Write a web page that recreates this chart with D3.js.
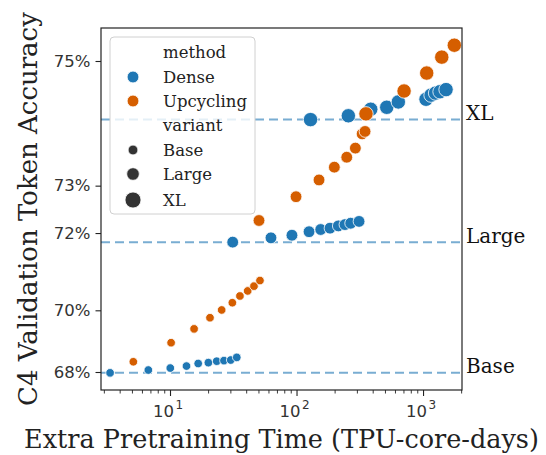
<!DOCTYPE html>
<html>
<head>
<meta charset="utf-8">
<script src="https://cdn.jsdelivr.net/npm/d3@7"></script>
<style>
html,body{margin:0;padding:0;background:#fff;}
svg{display:block;}
</style>
</head>
<body>
<svg id="chart" width="546" height="455"></svg>
<script>
// ---- data ----
const methods = ["Dense", "Upcycling"];
const variants = ["Base", "Large", "XL"];
const yTickValues = [68, 70, 72, 73, 75];
const xTickValues = [10, 100, 1000];

const denseBaseX = [3.36, 6.74, 10.05, 13.5, 16.7, 20.1, 23.4, 26.7, 30.2, 33.7];
const denseBaseY = [67.97, 68.07, 68.14, 68.21, 68.30, 68.33, 68.38, 68.40, 68.42, 68.51];
const upBaseX = [5.13, 10.2, 15.5, 20.7, 25.6, 31.1, 35.7, 41.1, 46.1, 51.4];
const upBaseY = [68.36, 69.0, 69.44, 69.78, 70.01, 70.22, 70.41, 70.55, 70.68, 70.83];
const denseLargeX = [31.3, 62.8, 92.0, 125.6, 155.4, 184, 214, 241.5, 268, 312];
const denseLargeY = [71.79, 71.89, 71.95, 72.03, 72.08, 72.11, 72.16, 72.19, 72.22, 72.26];
const upLargeX = [50.5, 99.1, 150.6, 199, 249.5, 291.8, 330, 348];
const upLargeY = [72.28, 72.78, 73.11, 73.35, 73.53, 73.69, 73.93, 73.97];
const denseXLX = [129, 256.8, 386, 516.6, 637.9, 1056, 1157, 1256, 1362, 1520];
const denseXLY = [74.16, 74.22, 74.32, 74.35, 74.43, 74.47, 74.53, 74.56, 74.58, 74.61];
const upXLX = [354, 708, 1069, 1406, 1767];
const upXLY = [74.25, 74.59, 74.84, 75.05, 75.20];

const baselineLabels = ["Base", "Large", "XL"];
const baselineValues = [67.97, 71.79, 74.16];

// ---- layout ----
const W = 546, H = 455;
const L = 101, R = 462, T = 28, B = 390;
const colors = {Dense: "#1f77b4", Upcycling: "#d55e00"};
const radius = {Base: 4.3, Large: 5.9, XL: 7.2};

const svg = d3.select("#chart");
svg.append("rect").attr("width", W).attr("height", H).attr("fill", "#fff");

const x = d3.scaleLog().domain([2.848, 2032]).range([L, R]);
// accuracy axis: log of (79% - accuracy)
const yLog = d3.scaleLog().domain([11, 4]).range([372, 61]);
const y = a => yLog(79 - a);

// baselines
const bl = svg.append("g");
baselineValues.forEach((v, i) => {
  bl.append("line")
    .attr("x1", L).attr("x2", R).attr("y1", y(v)).attr("y2", y(v))
    .attr("stroke", colors.Dense).attr("stroke-opacity", 0.6)
    .attr("stroke-width", 2).attr("stroke-dasharray", "9,5");
  svg.append("text")
    .attr("x", 466).attr("y", y(v) + 0.5)
    .attr("font-family", "DejaVu Serif").attr("font-size", 20)
    .attr("fill", "#111")
    .text(baselineLabels[i]);
});

// points
const series = [
  {m: "Dense", v: "Base", xs: denseBaseX, ys: denseBaseY},
  {m: "Dense", v: "Large", xs: denseLargeX, ys: denseLargeY},
  {m: "Dense", v: "XL", xs: denseXLX, ys: denseXLY},
  {m: "Upcycling", v: "Base", xs: upBaseX, ys: upBaseY},
  {m: "Upcycling", v: "Large", xs: upLargeX, ys: upLargeY},
  {m: "Upcycling", v: "XL", xs: upXLX, ys: upXLY}
];
const pts = svg.append("g");
series.forEach(s => {
  pts.selectAll(null).data(s.xs.map((xv, i) => [xv, s.ys[i]])).enter()
    .append("circle")
    .attr("cx", d => x(d[0])).attr("cy", d => y(d[1]))
    .attr("r", radius[s.v])
    .attr("fill", colors[s.m])
    .attr("stroke", "#fff").attr("stroke-width", 0.8);
});

// axes
const axisColor = "#222";
const yAxis = d3.axisLeft(yLog)
  .tickValues(yTickValues.map(v => 79 - v))
  .tickFormat(d => (79 - d) + "%")
  .tickSize(5.5).tickPadding(5);
const gy = svg.append("g").attr("transform", `translate(${L},0)`).call(yAxis);
gy.select(".domain").remove();
gy.selectAll("line").attr("stroke", axisColor).attr("stroke-width", 1.1);
gy.selectAll("text").attr("font-family", "DejaVu Sans").attr("font-size", 16.5).attr("fill", "#333");

const minorTicks = [];
[1, 10, 100, 1000].forEach(dec => {
  for (let k = 2; k <= 9; k++) {
    const v = dec * k;
    if (v >= 2.848 && v <= 2032) minorTicks.push(v);
  }
});
const gxm = svg.append("g").attr("transform", `translate(0,${B})`)
  .call(d3.axisBottom(x).tickValues(minorTicks).tickFormat("").tickSize(3.5));
gxm.select(".domain").remove();
gxm.selectAll("line").attr("stroke", axisColor).attr("stroke-width", 0.9);

const gx = svg.append("g").attr("transform", `translate(0,${B})`)
  .call(d3.axisBottom(x).tickValues(xTickValues).tickFormat("").tickSize(6));
gx.select(".domain").remove();
gx.selectAll("line").attr("stroke", axisColor).attr("stroke-width", 1.1);
gx.selectAll(".tick").each(function(d) {
  const g = d3.select(this);
  g.append("text")
    .attr("x", 3.5).attr("y", 27).attr("fill", "#333")
    .attr("font-family", "DejaVu Sans").attr("font-size", 16.5)
    .attr("text-anchor", "end")
    .text("10");
  g.append("text")
    .attr("x", 5).attr("y", 19).attr("fill", "#333")
    .attr("font-family", "DejaVu Sans").attr("font-size", 12)
    .attr("text-anchor", "start")
    .text(Math.round(Math.log10(d)));
});

// frame
svg.append("rect").attr("x", L).attr("y", T).attr("width", R - L).attr("height", B - T)
  .attr("fill", "none").attr("stroke", axisColor).attr("stroke-width", 1.2);

// axis labels
svg.append("text")
  .attr("x", (L + R) / 2).attr("y", 448)
  .attr("text-anchor", "middle")
  .attr("font-family", "DejaVu Serif").attr("font-size", 25.5).attr("fill", "#222")
  .text("Extra Pretraining Time (TPU-core-days)");
svg.append("text")
  .attr("transform", `translate(37,${(T + B) / 2}) rotate(-90)`)
  .attr("text-anchor", "middle")
  .attr("font-family", "DejaVu Serif").attr("font-size", 26).attr("fill", "#222")
  .text("C4 Validation Token Accuracy");

// legend
const lg = svg.append("g");
lg.append("rect").attr("x", 110).attr("y", 37).attr("width", 145).attr("height", 177)
  .attr("rx", 4).attr("fill", "#fff").attr("fill-opacity", 0.8)
  .attr("stroke", "#d0d0d0").attr("stroke-width", 1);
const legendRows = [
  {label: "method", title: true},
  {label: "Dense", color: colors.Dense, r: radius.Base + 1.6},
  {label: "Upcycling", color: colors.Upcycling, r: radius.Base + 1.6},
  {label: "variant", title: true},
  {label: "Base", color: "#333", r: radius.Base + 0.6},
  {label: "Large", color: "#333", r: radius.Large + 0.4},
  {label: "XL", color: "#333", r: radius.XL + 0.8}
];
const rowY = [52, 77, 101, 125, 150, 174, 200];
legendRows.forEach((row, i) => {
  if (!row.title) {
    lg.append("circle").attr("cx", 133).attr("cy", rowY[i]).attr("r", row.r)
      .attr("fill", row.color).attr("stroke", "#fff").attr("stroke-width", 0.8);
  }
  lg.append("text").attr("x", 163).attr("y", rowY[i] + 6)
    .attr("font-family", "DejaVu Serif").attr("font-size", 16.5).attr("fill", "#222")
    .text(row.label);
});
</script>
</body>
</html>
